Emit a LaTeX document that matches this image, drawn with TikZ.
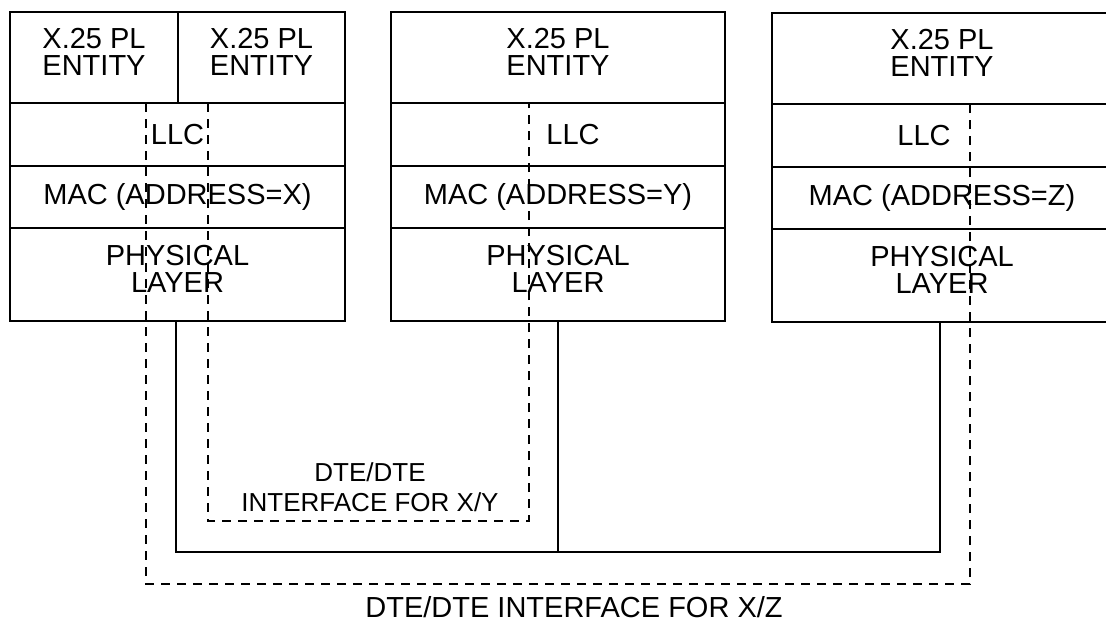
\documentclass[tikz,border=0pt]{standalone}
\usepackage{fontspec}
\setmainfont{Liberation Sans}
\usetikzlibrary{positioning}

\begin{document}
\begin{tikzpicture}[x=1pt, y=-1pt,
     node distance = 0pt and 0pt,
      layer/.style = {rectangle, draw, line width=1.2pt, inner sep=0pt, outer sep=0pt,
                      minimum width=335pt, align=center, font=\fontsize{29}{27}\selectfont},
     raised/.style = {text depth=12pt},
        txt/.style = {inner sep=0pt, align=center, font=\fontsize{29}{29}\selectfont},
      iface/.style = {line width=1.2pt, dash pattern=on 9pt off 7pt},
        bus/.style = {line width=2pt}
                    ]
\useasboundingbox (0,0) rectangle (1106,625);
% station X
\node (entxa) [layer, raised, minimum width=168pt, minimum height=91pt, anchor=north west] at (10,12) {X.25 PL\\ENTITY};
\node (entxb) [layer, raised, minimum width=167pt, minimum height=91pt, right=of entxa] {X.25 PL\\ENTITY};
\node (llcx)  [layer, minimum height=63pt, anchor=north west] at (entxa.south west) {};
\node (macx)  [layer, minimum height=62pt, below=of llcx] {MAC (ADDRESS=X)};
\node (phyx)  [layer, raised, minimum height=93pt, below=of macx] {PHYSICAL\\LAYER};
\node (llcxt) [txt] at (llcx.center) {LLC};
% station Y
\node (enty)  [layer, raised, minimum width=334pt, minimum height=91pt, anchor=north west] at (391,12) {X.25 PL\\ENTITY};
\node (llcy)  [layer, minimum width=334pt, minimum height=63pt, below=of enty] {};
\node (macy)  [layer, minimum width=334pt, minimum height=62pt, below=of llcy] {MAC (ADDRESS=Y)};
\node (phyy)  [layer, raised, minimum width=334pt, minimum height=93pt, below=of macy] {PHYSICAL\\LAYER};
\node (llcyt) [txt] at ([xshift=15pt]llcy.center) {LLC};
% station Z
\node (entz)  [layer, raised, minimum width=340pt, minimum height=91pt, anchor=north west] at (772,13) {X.25 PL\\ENTITY};
\node (llcz)  [layer, minimum width=340pt, minimum height=63pt, below=of entz] {};
\node (macz)  [layer, minimum width=340pt, minimum height=62pt, below=of llcz] {MAC (ADDRESS=Z)};
\node (phyz)  [layer, raised, minimum width=340pt, minimum height=93pt, below=of macz] {PHYSICAL\\LAYER};
\node (llczt) [txt] at ([xshift=-18pt]llcz.center) {LLC};
% interfaces
\coordinate (xzx) at (146,103);
\coordinate (xzz) at (970,104);
\coordinate (xzb) at (558,584);
\coordinate (xyx) at (208,103);
\coordinate (xyy) at (529,103);
\coordinate (xyb) at (370,521);
\draw[iface] (xzx) |- (xzb) -| (xzz);
\draw[iface] (xyx) |- (xyb) -| (xyy);
% medium
\coordinate (tapx) at (176,320);
\coordinate (tapy) at (558,321);
\coordinate (tapz) at (940,322);
\coordinate (busb) at (558,552);
\draw[bus] (tapx) |- (busb) -| (tapz);
\draw[bus] (tapy) -- (busb);
\node (xylbl) [txt, font=\fontsize{26}{30}\selectfont] at (370,487) {DTE/DTE\\INTERFACE FOR X/Y};
\node (xzlbl) [txt] at (574,607) {DTE/DTE INTERFACE FOR X/Z};
\end{tikzpicture}
\end{document}
